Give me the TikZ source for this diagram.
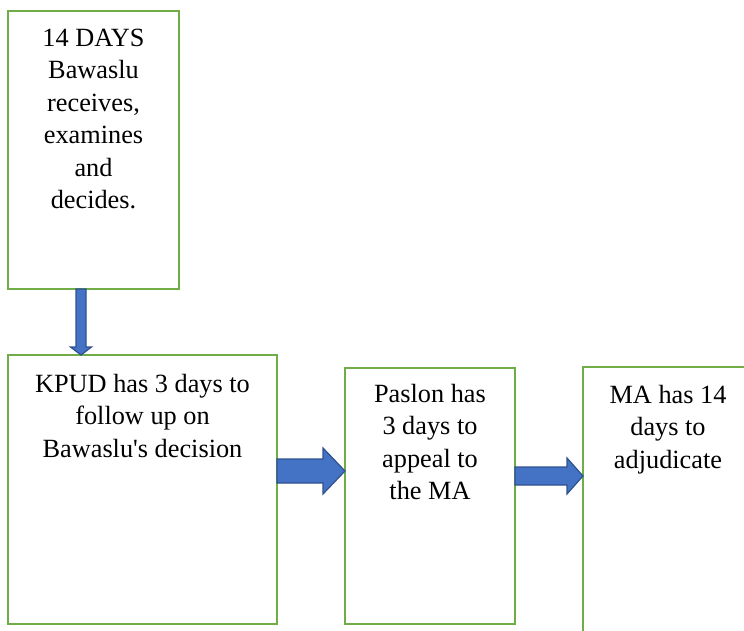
\documentclass[tikz,border=0pt]{standalone}
\usepackage{fontspec}
\setmainfont{Liberation Serif}
\newfontfamily\stagefont{Liberation Serif}
\usetikzlibrary{calc}
\usetikzlibrary{positioning}

\definecolor{boxgreen}{HTML}{70AD47}
\definecolor{arrowblue}{HTML}{4472C4}
\definecolor{arrowedge}{HTML}{2F528F}

\tikzset{
  stagebox/.style={draw=boxgreen, line width=2.2pt, rectangle, inner sep=0pt, outer sep=0pt},
  stagetext/.style={anchor=north, align=center, inner sep=0pt, font=\stagefont\fontsize{26.3}{32.5}\selectfont},
  bigarrow/.style={fill=arrowblue, draw=arrowedge, line width=1.2pt, line join=miter}
}

\begin{document}
\begin{tikzpicture}[x=1pt,y=-1pt]
            \useasboundingbox (0,0) rectangle (744,631);
            \clip (0,0) rectangle (744,631);

            % Draw boxes
            \node[stagebox, minimum width=171pt, minimum height=278pt] (bawaslu) at (93.5,150) {};
            \node[stagebox, minimum width=269pt, minimum height=269pt] (kpud) at (142.5,489.5) {};
            \node[stagebox, minimum width=170pt, minimum height=256pt] (paslon) at (430,496) {};
            \node[stagebox, minimum width=170pt, minimum height=283pt] (ma) at (668,508.5) {};

            % Draw texts
            \node[stagetext] (bawaslutext) at ($(bawaslu.north)+(0,17.5)$)
                {14 DAYS\\Bawaslu\\receives,\\examines\\and\\decides.};
            \node[stagetext] (kpudtext) at ($(kpud.north)+(0,19)$)
                {KPUD has 3 days to\\follow up on\\Bawaslu\textquotesingle s decision};
            \node[stagetext] (paslontext) at ($(paslon.north)+(0,16)$)
                {Paslon has\\3 days to\\appeal to\\the MA};
            \node[stagetext] (matext) at ($(ma.north)+(0,18)$)
                {MA has 14\\days to\\adjudicate};

            % Draw arrows
            \coordinate (a1s) at ($(bawaslu.south west)+(73,0)$);
            \coordinate (a1e) at (a1s |- kpud.north);
            \filldraw[bigarrow] ($(a1s)+(-5,0)$) -- ($(a1s)+(5,0)$) -- ($(a1e)+(5,-8)$)
                -- ($(a1e)+(10.5,-8)$) -- (a1e) -- ($(a1e)+(-10.5,-8)$) -- ($(a1e)+(-5,-8)$) -- cycle;

            \coordinate (a2s) at ($(kpud.north east)+(0,116)$);
            \coordinate (a2e) at (a2s -| paslon.west);
            \filldraw[bigarrow] ($(a2s)+(0,-12)$) -- ($(a2e)+(-22,-12)$) -- ($(a2e)+(-22,-23)$)
                -- (a2e) -- ($(a2e)+(-22,23)$) -- ($(a2e)+(-22,12)$) -- ($(a2s)+(0,12)$) -- cycle;

            \coordinate (a3s) at ($(paslon.north east)+(0,108)$);
            \coordinate (a3e) at (a3s -| ma.west);
            \filldraw[bigarrow] ($(a3s)+(0,-9)$) -- ($(a3e)+(-16,-9)$) -- ($(a3e)+(-16,-18)$)
                -- (a3e) -- ($(a3e)+(-16,18)$) -- ($(a3e)+(-16,9)$) -- ($(a3s)+(0,9)$) -- cycle;
\end{tikzpicture}
\end{document}
